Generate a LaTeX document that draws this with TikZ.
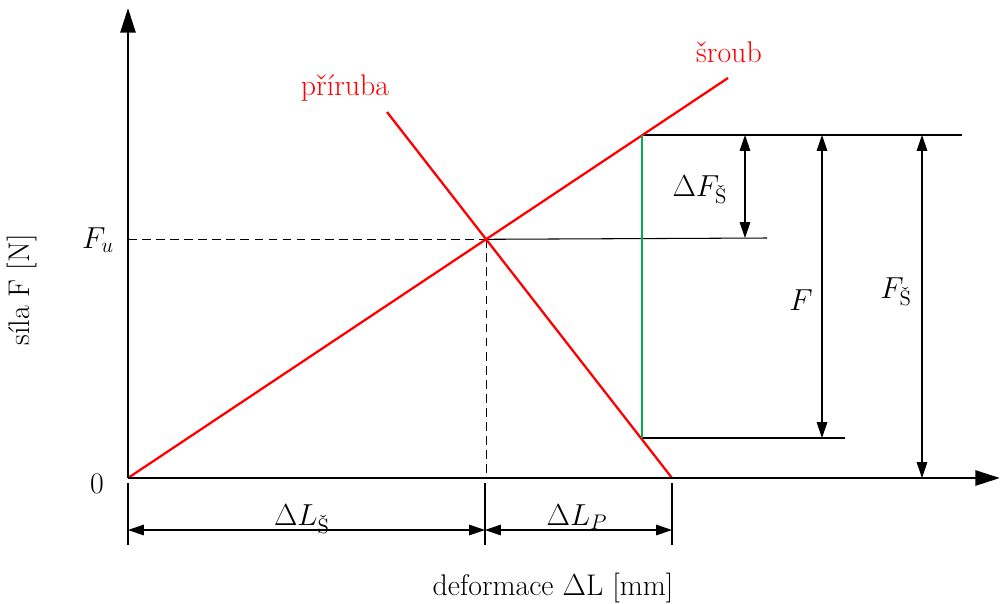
\documentclass[tikz,border=0pt]{standalone}
\usepackage{fontspec}
\usepackage{amsmath}
\usetikzlibrary{arrows.meta,positioning}
\definecolor{curveRed}{RGB}{255,0,0}
\definecolor{diffGreen}{RGB}{0,176,80}
\tikzset{
  axisLine/.style  = {-{Triangle[length=14pt,width=8.5pt]}, line width=1.6pt},
  curveLine/.style = {draw=curveRed, line width=1.3pt},
  helpLine/.style  = {draw=black, line width=0.6pt},
  dashLine/.style  = {helpLine, dash pattern=on 5pt off 3pt},
  dimArrow/.style  = {{Triangle[length=9pt,width=6pt]}-{Triangle[length=9pt,width=6pt]},
                      line width=0.6pt},
  lbl/.style       = {inner sep=1pt},
}

\begin{document}
\begin{tikzpicture}[x=0.02cm,y=-0.02cm,font=\fontsize{17}{20}\selectfont]
  \useasboundingbox (0,0) rectangle (1001,603);
  % points of the diagram
  \coordinate (O)    at (128,478);
  \coordinate (yTop) at (128,8);
  \coordinate (xEnd) at (1000,478);
  \coordinate (sEnd) at (728,78);
  \coordinate (pBeg) at (387,112);
  \coordinate (pEnd) at (672,478);
  \coordinate (X)    at (intersection of O--sEnd and pBeg--pEnd);
  \coordinate (gTop) at (642,135);
  \coordinate (gBot) at (642,438);
  % helper lines
  \draw[dashLine] (X -| O) -- (X);
  \draw[dashLine] (X) -- (X |- O);
  \draw[helpLine] (X) -- (767,238);
  \draw[helpLine] (gTop) -- (962,135);
  \draw[helpLine] (gBot) -- (845,438);
  \draw[helpLine] (128,483) -- (128,545);
  \draw[helpLine] (485,483) -- (485,545);
  \draw[helpLine] (672,483) -- (672,545);
  % dimensions
  \draw[dimArrow] (745,135) -- (745,238);
  \draw[dimArrow] (822,135) -- (822,438);
  \draw[dimArrow] (922,135) -- (922,478);
  \draw[dimArrow] (128,530) -- (485,530);
  \draw[dimArrow] (485,530) -- (672,530);
  % curves
  \draw[curveLine] (O) -- (sEnd);
  \draw[curveLine] (pBeg) -- (pEnd);
  \draw[draw=diffGreen, line width=1.2pt] (gTop) -- (gBot);
  % axes
  \draw[axisLine] (O) -- (yTop);
  \draw[axisLine] (O) -- (xEnd);
  % labels
  \node[lbl] (zero) at (97,484) {0};
  \node[lbl] (fu)   at (98,240) {$F_u$};
  \node[lbl] (dfs)  at (700,190) {$\Delta F_{\text{Š}}$};
  \node[lbl] (ff)   at (801,300) {$F$};
  \node[lbl] (fs)   at (896,292) {$F_{\text{Š}}$};
  \node[lbl] (dls)  at (302,519) {$\Delta L_{\text{Š}}$};
  \node[lbl] (dlp)  at (577,517) {$\Delta L_P$};
  \node[lbl, text=curveRed] (prir)  at (345,88) {příruba};
  \node[lbl, text=curveRed] (sroub) at (729,52) {šroub};
  \node[lbl, rotate=90] (ylab) at (22,290) {síla F [N]};
  \node[lbl] (xlab) at (553,588) {deformace $\Delta$L [mm]};
\end{tikzpicture}
\end{document}
